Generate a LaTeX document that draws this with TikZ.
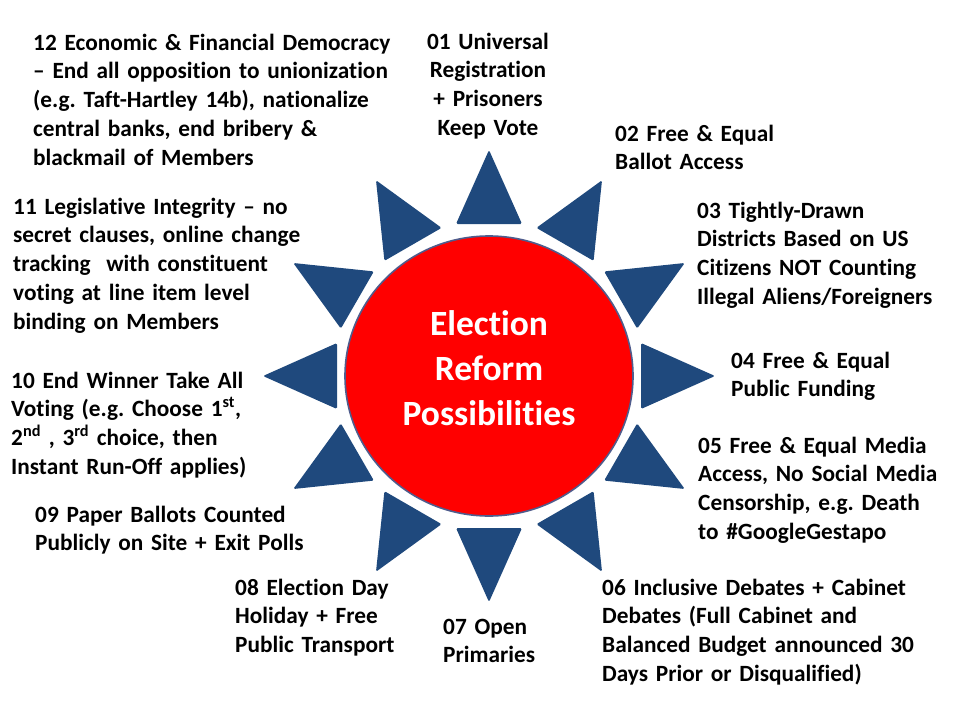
\documentclass[tikz,border=0pt]{standalone}
\usepackage{fontspec}
\setmainfont[Ligatures={NoCommon}]{Carlito}
\frenchspacing
\usetikzlibrary{calc}
\definecolor{triblue}{RGB}{31,73,125}
\definecolor{discred}{RGB}{255,0,0}
\definecolor{discline}{RGB}{79,92,140}
\begin{document}
\frenchspacing
\begin{tikzpicture}[x=1pt,y=-1pt,
  lbl/.style={anchor=base west, inner sep=0pt, text width=420pt, align=left,
              font=\bfseries\fontsize{23.3}{28.8}\selectfont},
  ray/.style={fill=triblue, rounded corners=1.5pt},
  disc/.style={fill=discred, draw=discline, line width=1.6pt},
  title/.style={font=\bfseries\fontsize{35.5}{45}\selectfont, text=white, align=center,
                anchor=base, text width=260pt, inner sep=0pt}]
\fill[white] (0,0) rectangle (960,720);
\useasboundingbox (0,0) rectangle (960,720);
\coordinate (c) at (489,376);
\foreach \a in {0,30,...,330}{
  \fill[ray] ($(c)+(\a:152)+(\a+90:33)$) -- ($(c)+(\a:226)$) -- ($(c)+(\a:152)+(\a-90:33)$) -- cycle;
}
\draw[disc] (c) ellipse [x radius=144, y radius=140];
\node[title] (ttl) at (489,335) {Election\\Reform\\Possibilities};

\node[lbl, anchor=base, align=center, text width=200pt] (n01) at (488,49) {01 Universal\\Registration\\+ Prisoners\\Keep Vote};
\node[lbl] (n02) at (615,141) {02 Free \& Equal\\Ballot Access};
\node[lbl] (n03) at (697,218) {03 Tightly-Drawn\\Districts Based on US\\Citizens NOT Counting\\Illegal Aliens/Foreigners};
\node[lbl] (n04) at (731,368) {04 Free \& Equal\\Public Funding};
\node[lbl] (n05) at (698,453) {05 Free \& Equal Media\\Access, No Social Media\\Censorship, e.g. Death\\to \#GoogleGestapo};
\node[lbl] (n06) at (602,595) {06 Inclusive Debates + Cabinet\\Debates (Full Cabinet and\\Balanced Budget announced 30\\Days Prior or Disqualified)};
\node[lbl] (n07) at (443,634) {07 Open\\Primaries};
\node[lbl] (n08) at (235,595) {08 Election Day\\Holiday + Free\\Public Transport};
\node[lbl] (n09) at (35,522) {09 Paper Ballots Counted\\Publicly on Site + Exit Polls};
\node[lbl] (n10) at (11,388) {10 End Winner Take All\\Voting (e.g. Choose 1\textsuperscript{st},\\2\textsuperscript{nd} , 3\textsuperscript{rd} choice, then\\Instant Run-Off applies)};
\node[lbl] (n11) at (13,214) {11 Legislative Integrity – no\\secret clauses, online change\\tracking\ \ with constituent\\voting at line item level\\binding on Members};
\node[lbl] (n12) at (33,50) {12 Economic \& Financial Democracy\\– End all opposition to unionization\\(e.g. Taft-Hartley 14b), nationalize\\central banks, end bribery \&\\blackmail of Members};
\end{tikzpicture}
\end{document}
